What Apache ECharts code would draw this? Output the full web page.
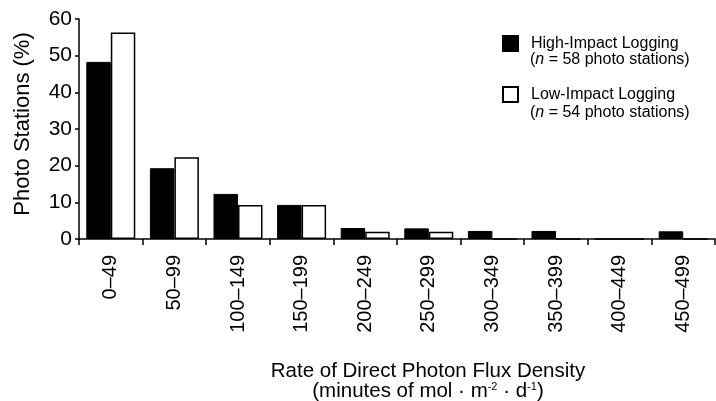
<!DOCTYPE html>
<html>
<head>
<meta charset="utf-8">
<script src="https://cdn.jsdelivr.net/npm/echarts@6/dist/echarts.min.js"></script>
<style>
  html, body { margin: 0; padding: 0; background: #fff; }
  #chart { width: 716px; height: 401px; }
</style>
</head>
<body>
<div id="chart"></div>
<script>
// flux density classes (minutes of mol m-2 d-1)
const categories = ['0–49', '50–99', '100–149', '150–199', '200–249',
  '250–299', '300–349', '350–399', '400–449', '450–499'];
// % of photo stations
const highImpact = [48.3, 19.3, 12.3, 9.3, 3.0, 2.9, 2.2, 2.2, 0, 2.1];
const lowImpact = [56.3, 22.3, 9.3, 9.3, 2.0, 2.0, 0, 0, 0, 0];
const yTicks = [0, 10, 20, 30, 40, 50, 60];

const font = "'Liberation Sans', Arial, Helvetica, sans-serif";

const chart = echarts.init(document.getElementById('chart'));

const nRich = {
  p: { fontFamily: font, fontSize: 16, fill: '#000' },
  i: { fontFamily: font, fontSize: 16, fontStyle: 'italic', fill: '#000' }
};

const option = {
  animation: false,
  backgroundColor: '#fff',
  textStyle: { fontFamily: font, color: '#000' },
  grid: { left: 79, right: 1, top: 19, bottom: 162, outerBoundsMode: 'none' },
  legend: {
    orient: 'vertical',
    left: 497,
    top: 30,
    icon: 'rect',
    itemWidth: 15,
    itemHeight: 15,
    itemGap: 34,
    data: ['High-Impact Logging', 'Low-Impact Logging'],
    textStyle: { fontFamily: font, fontSize: 16, color: '#000', padding: [0, 0, 0, 8] }
  },
  // second line of each legend entry
  graphic: [
    { type: 'text', left: 530, top: 52, style: { text: '{p|(}{i|n}{p| = 58 photo stations)}', rich: nRich } },
    { type: 'text', left: 530, top: 105, style: { text: '{p|(}{i|n}{p| = 54 photo stations)}', rich: nRich } }
  ],
  xAxis: {
    type: 'category',
    data: categories,
    boundaryGap: true,
    axisLine: { lineStyle: { color: '#000', width: 1.5 } },
    axisTick: { show: true, interval: 0, length: 6, lineStyle: { color: '#000', width: 1.5 } },
    axisLabel: {
      interval: 0, rotate: 90, margin: 16,
      fontFamily: font, fontSize: 20, color: '#000'
    },
    name: '{t|Rate of Direct Photon Flux Density}\n{t|(minutes of mol · m}{s|-2}{t| · d}{s|-1}{t|)}',
    nameLocation: 'middle',
    nameGap: 122,
    nameTextStyle: {
      padding: [0, 0, 0, 62],
      rich: {
        t: { fontFamily: font, fontSize: 20.5, color: '#000', lineHeight: 20 },
        s: { fontFamily: font, fontSize: 11, color: '#000', lineHeight: 20, verticalAlign: 'top', padding: [0, 0, 6, 0] }
      }
    }
  },
  yAxis: {
    type: 'value',
    min: yTicks[0],
    max: yTicks[yTicks.length - 1],
    interval: 10,
    splitLine: { show: false },
    axisLine: { show: true, lineStyle: { color: '#000', width: 1.5 } },
    axisTick: { show: true, length: 4, lineStyle: { color: '#000', width: 1.5 } },
    axisLabel: { margin: 7, fontFamily: font, fontSize: 21, color: '#000' },
    name: 'Photo Stations (%)',
    nameLocation: 'middle',
    nameGap: 45,
    nameTextStyle: { fontFamily: font, fontSize: 22, color: '#000', padding: [0, 0, 0, 10] }
  },
  series: [
    {
      name: 'High-Impact Logging',
      type: 'bar',
      data: highImpact,
      barWidth: 24.5,
      barGap: '0%',
      itemStyle: { color: '#000', borderColor: '#000', borderWidth: 1 }
    },
    {
      name: 'Low-Impact Logging',
      type: 'bar',
      data: lowImpact,
      barWidth: 24.5,
      barGap: '0%',
      itemStyle: { color: '#fff', borderColor: '#000', borderWidth: 1.5 }
    }
  ]
};

chart.setOption(option);

window.addEventListener('resize', () => {
  chart.resize();
});
</script>
</body>
</html>
